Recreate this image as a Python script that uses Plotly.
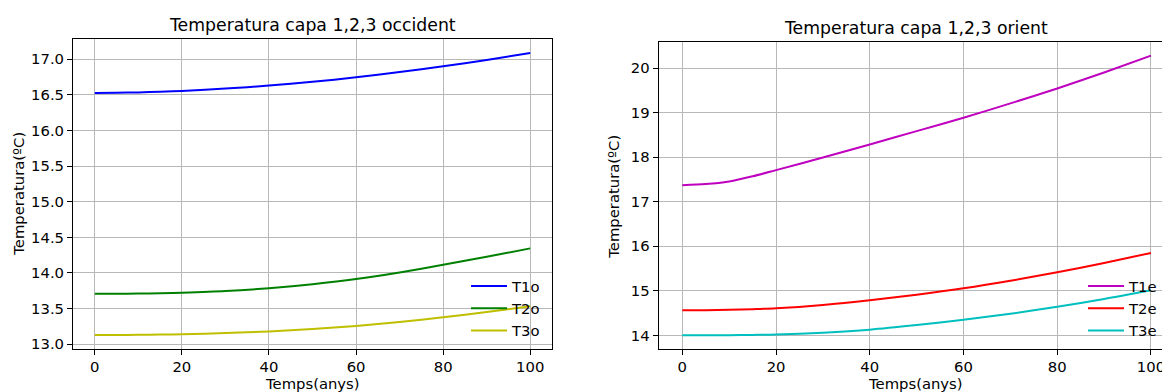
import plotly.graph_objects as go

# ---- data ----
years = [0, 5, 10, 15, 20, 30, 40, 50, 60, 70, 80, 90, 100]

T1o = [16.524, 16.527, 16.532, 16.541, 16.553, 16.585, 16.628, 16.681, 16.743, 16.817, 16.898, 16.987, 17.086]
T2o = [13.709, 13.709, 13.711, 13.715, 13.723, 13.746, 13.786, 13.843, 13.915, 14.008, 14.115, 14.227, 14.345]
T3o = [13.130, 13.131, 13.133, 13.136, 13.140, 13.158, 13.181, 13.216, 13.258, 13.312, 13.378, 13.452, 13.532]

T1e = [17.371, 17.395, 17.455, 17.570, 17.708, 17.990, 18.285, 18.584, 18.884, 19.206, 19.540, 19.900, 20.277]
T2e = [14.562, 14.564, 14.572, 14.587, 14.607, 14.681, 14.786, 14.912, 15.056, 15.225, 15.415, 15.624, 15.850]
T3e = [14.000, 14.001, 14.004, 14.010, 14.018, 14.060, 14.127, 14.230, 14.350, 14.485, 14.640, 14.815, 15.010]

x_ticks = [0, 20, 40, 60, 80, 100]
left_y_ticks = [13.0, 13.5, 14.0, 14.5, 15.0, 15.5, 16.0, 16.5, 17.0]
right_y_ticks = [14, 15, 16, 17, 18, 19, 20]

left_title = "Temperatura capa 1,2,3 occident"
right_title = "Temperatura capa 1,2,3 orient"
x_label = "Temps(anys)"
y_label = "Temperatura(ºC)"

FONT = "DejaVu Sans"
FS = 14.8
FS_TITLE = 17.3
W, H = 1162, 392

fig = go.Figure()

left_series = [("T1o", T1o, "#0000ff"), ("T2o", T2o, "#008000"), ("T3o", T3o, "#bfbf00")]
right_series = [("T1e", T1e, "#bf00bf"), ("T2e", T2e, "#ff0000"), ("T3e", T3e, "#00bfbf")]

for name, ys, col in left_series:
    fig.add_trace(go.Scatter(x=years, y=ys, name=name, mode="lines",
                             line=dict(color=col, width=2, shape="spline", smoothing=0.8),
                             xaxis="x", yaxis="y", legend="legend"))
for name, ys, col in right_series:
    fig.add_trace(go.Scatter(x=years, y=ys, name=name, mode="lines",
                             line=dict(color=col, width=2, shape="spline", smoothing=0.8),
                             xaxis="x2", yaxis="y2", legend="legend2"))

tickfont = dict(family=FONT, size=FS, color="black")
common_axis = dict(showgrid=True, gridcolor="#b8b8b8", gridwidth=1,
                   ticks="outside", ticklen=5, tickwidth=1, tickcolor="black",
                   showline=True, linecolor="black", linewidth=1,
                   tickfont=tickfont, zeroline=False, ticklabeloverflow="allow")

def px(xp):
    return xp / W

def py(yp):
    return 1 - yp / H

legend_common = dict(xanchor="left", yanchor="top", bgcolor="rgba(0,0,0,0)", borderwidth=0,
                     font=dict(family=FONT, size=FS, color="black"), tracegroupgap=0,
                     itemwidth=36)

fig.update_layout(
    width=W, height=H,
    margin=dict(l=0, r=0, t=0, b=0, autoexpand=False),
    paper_bgcolor="white", plot_bgcolor="white",
    font=dict(family=FONT, size=FS, color="black"),
    showlegend=True,
    xaxis=dict(domain=[px(73), px(552)], range=[-5, 105], tickvals=x_ticks,
               anchor="y", mirror=True, **common_axis),
    yaxis=dict(domain=[py(348.5), py(38.7)], range=[12.941, 17.285], tickvals=left_y_ticks,
               tickformat=".1f", anchor="x", mirror=True, **common_axis),
    xaxis2=dict(domain=[px(658.6), 1.0], range=[-5.06, 102.35], tickvals=x_ticks,
                anchor="y2", mirror=True, **common_axis),
    yaxis2=dict(domain=[py(348.7), py(42)], range=[13.70, 20.584], tickvals=right_y_ticks,
                anchor="x2", mirror=False, **common_axis),
    legend=dict(x=px(466), y=py(270), **legend_common),
    legend2=dict(x=px(1083), y=py(270), **legend_common),
)

ann_font = dict(family=FONT, size=FS, color="black")
annotations = [
    dict(text=left_title, x=px(312.5), y=py(24.5), xanchor="center", yanchor="middle",
         font=dict(family=FONT, size=FS_TITLE, color="black")),
    dict(text=right_title, x=px(916), y=py(27.7), xanchor="center", yanchor="middle",
         font=dict(family=FONT, size=FS_TITLE, color="black")),
    dict(text=x_label, x=px(312), y=py(383), xanchor="center", yanchor="middle", font=ann_font),
    dict(text=x_label, x=px(915.6), y=py(383), xanchor="center", yanchor="middle", font=ann_font),
    dict(text=y_label, x=px(17.7), y=py(194), xanchor="center", yanchor="middle",
         textangle=-90, font=ann_font),
    dict(text=y_label, x=px(614), y=py(196.7), xanchor="center", yanchor="middle",
         textangle=-90, font=ann_font),
]
for a in annotations:
    a.update(xref="paper", yref="paper", showarrow=False)
fig.update_layout(annotations=annotations)

fig.write_html("out.html", config={"displayModeBar": False},
               post_script="document.body.style.margin='0';document.body.style.overflow='hidden';")
